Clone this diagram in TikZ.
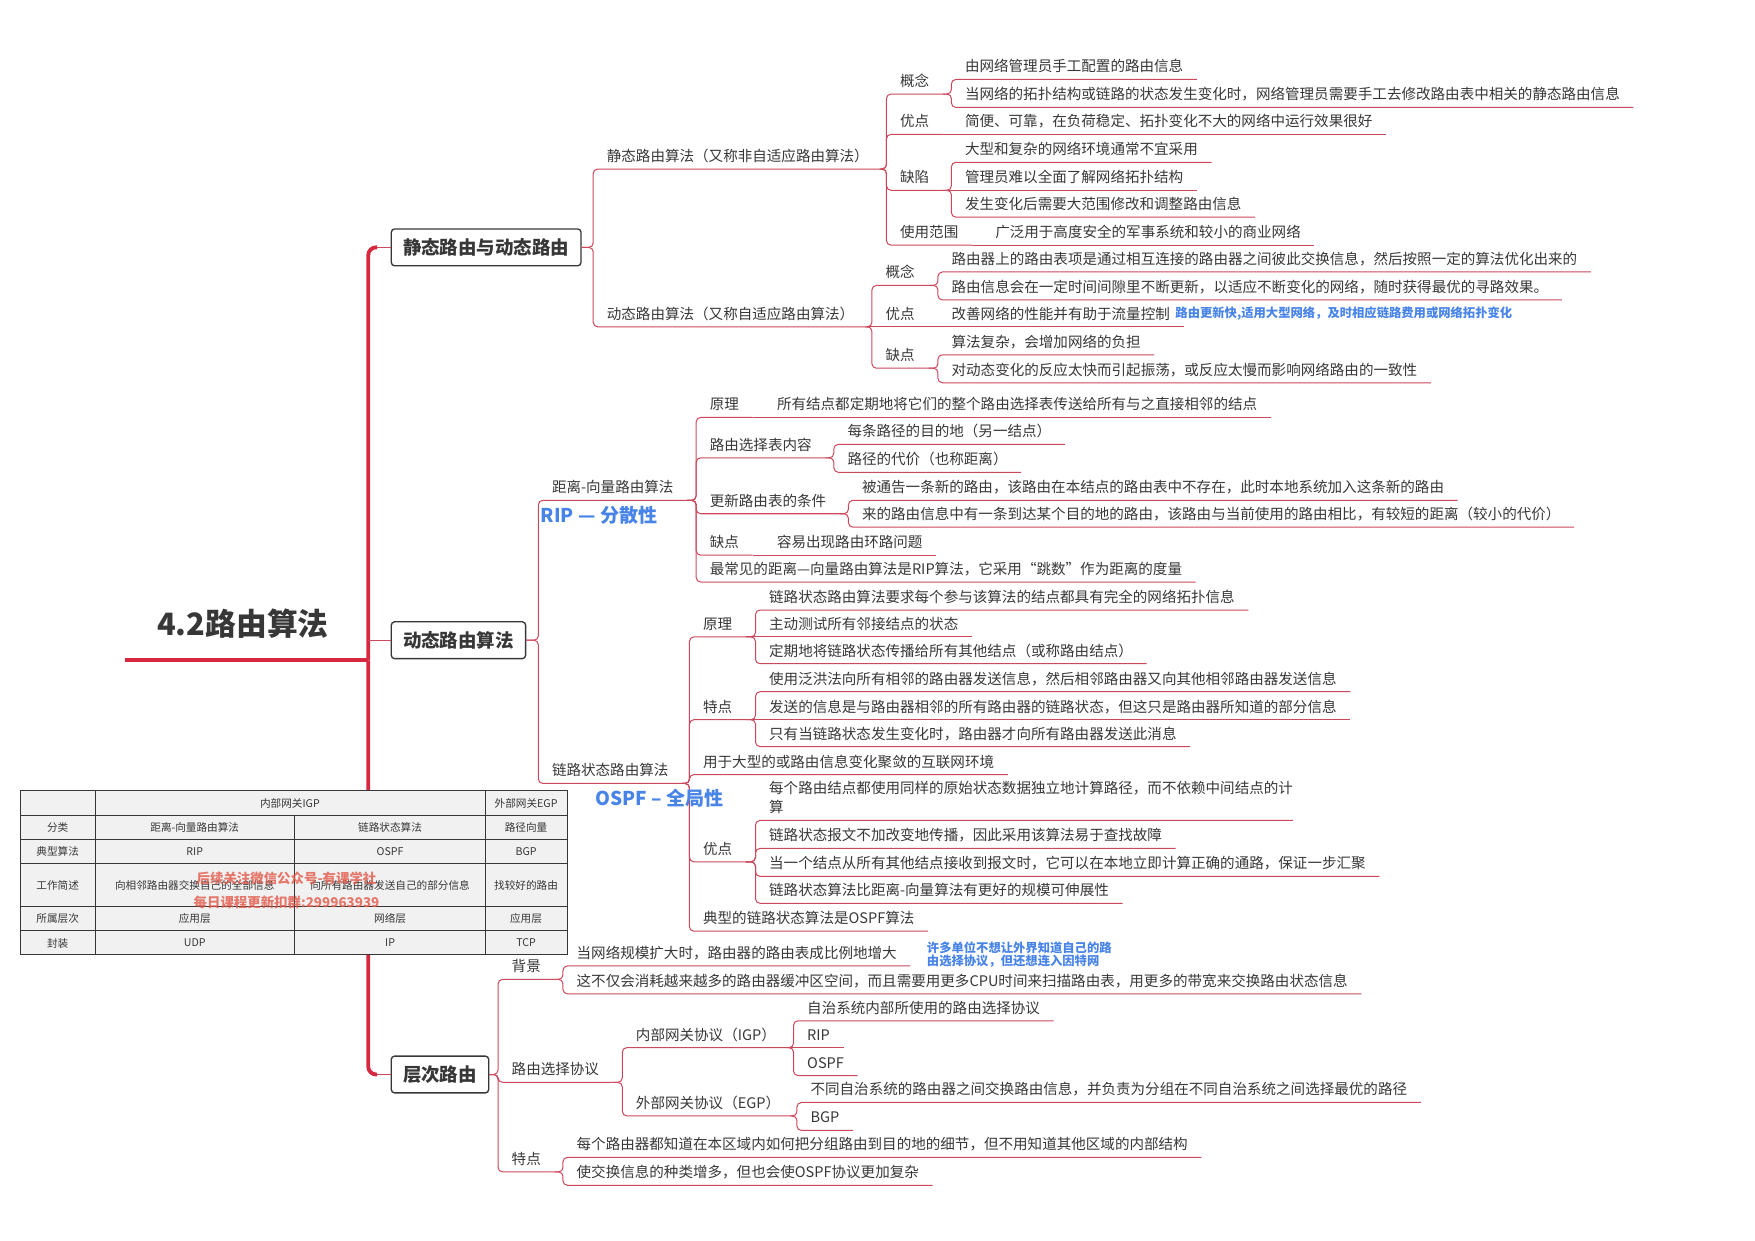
\documentclass[tikz,border=0pt]{standalone}
\usepackage{fontspec}
\setmainfont{Noto Sans CJK SC}
\usepackage{tikz}
\usetikzlibrary{positioning}

\definecolor{ink}{RGB}{55,55,55}
\definecolor{trunkred}{RGB}{214,40,64}
\definecolor{branchred}{RGB}{204,72,92}
\definecolor{noteblue}{RGB}{72,132,232}
\definecolor{tablegray}{RGB}{241,241,241}
\definecolor{markred}{RGB}{226,88,72}

\begin{document}
\begin{tikzpicture}[x=1pt, y=-1pt,
    every node/.append style={text=ink},
    trunk/.style={draw=trunkred, line width=3.4pt, rounded corners=7pt},
    branch/.style={draw=branchred, line width=0.9pt, rounded corners=4pt}]
  \tikzstyle{topic} = [anchor=south west, inner xsep=12pt, inner ysep=3.5pt, text depth=3pt, font=\fontsize{13}{17}\selectfont]
  \tikzstyle{mainbox} = [draw=ink, anchor=west, line width=1.2pt, rounded corners=3pt, inner xsep=10.5pt, inner ysep=8.5pt, font=\fontsize{16.5}{18}\selectfont\bfseries]
  \tikzstyle{note} = [anchor=west, inner sep=0pt, align=left, text=noteblue, font=\fontsize{11}{12}\selectfont\bfseries]
  \tikzstyle{bignote} = [note, font=\fontsize{17}{19}\selectfont\bfseries]
  \tikzstyle{cell} = [inner sep=0pt, font=\fontsize{9.5}{11}\selectfont]
  \tikzstyle{watermark} = [inner sep=0pt, text=markred, opacity=0.8, font=\fontsize{12}{13}\selectfont\bfseries]
  \useasboundingbox (0,0) rectangle (1568,1108);

  \node (root) [anchor=south, minimum width=210pt, inner xsep=0pt, inner ysep=19pt, text depth=3pt, font=\fontsize{27.5}{30}\selectfont\bfseries] at (217,590) {4.2路由算法};
  \coordinate (hub) at (329,590);

  \node (rs) [mainbox] at (349,221) {静态路由与动态路由};
  \node (dr) [mainbox] at (349,572) {动态路由算法};
  \node (hr) [mainbox] at (349,960) {层次路由};

  \node (sra) [topic] at (530,151) {静态路由算法（又称非自适应路由算法）};
  \node (dra) [topic] at (530,292) {动态路由算法（又称自适应路由算法）};

  \node (sgn) [topic] at (792,84) {概念};
  \node (sgn1) [topic] at (850,71) {由网络管理员手工配置的路由信息};
  \node (sgn2) [topic] at (850,96) {当网络的拓扑结构或链路的状态发生变化时，网络管理员需要手工去修改路由表中相关的静态路由信息};
  \node (syd) [topic] at (792,120) {优点};
  \node (syd1) [topic] at (850,120) {简便、可靠，在负荷稳定、拓扑变化不大的网络中运行效果很好};
  \node (sqx) [topic] at (792,170) {缺陷};
  \node (sqx1) [topic] at (850,145) {大型和复杂的网络环境通常不宜采用};
  \node (sqx2) [topic] at (850,170) {管理员难以全面了解网络拓扑结构};
  \node (sqx3) [topic] at (850,194) {发生变化后需要大范围修改和调整路由信息};
  \node (sfw) [topic] at (792,219) {使用范围};
  \node (sfw1) [topic] at (877,219) {广泛用于高度安全的军事系统和较小的商业网络};

  \node (dgn) [topic] at (779,255) {概念};
  \node (dgn1) [topic] at (838,243) {路由器上的路由表项是通过相互连接的路由器之间彼此交换信息，然后按照一定的算法优化出来的};
  \node (dgn2) [topic] at (838,268) {路由信息会在一定时间间隙里不断更新，以适应不断变化的网络，随时获得最优的寻路效果。};
  \node (dyd) [topic] at (779,292) {优点};
  \node (dyd1) [topic] at (838,292) {改善网络的性能并有助于流量控制};
  \node (dqd) [topic] at (779,329) {缺点};
  \node (dqd1) [topic] at (838,317) {算法复杂，会增加网络的负担};
  \node (dqd2) [topic] at (838,342) {对动态变化的反应太快而引起振荡，或反应太慢而影响网络路由的一致性};

  \node (dv) [topic] at (481,447) {距离-向量路由算法};
  \node (ls) [topic] at (481,700) {链路状态路由算法};

  \node (dvyl) [topic] at (622,373) {原理};
  \node (dvyl1) [topic] at (682,373) {所有结点都定期地将它们的整个路由选择表传送给所有与之直接相邻的结点};
  \node (dvbx) [topic] at (622,409) {路由选择表内容};
  \node (dvbx1) [topic] at (745,397) {每条路径的目的地（另一结点）};
  \node (dvbx2) [topic] at (745,422) {路径的代价（也称距离）};
  \node (dvgx) [topic] at (622,459) {更新路由表的条件};
  \node (dvgx1) [topic] at (758,447) {被通告一条新的路由，该路由在本结点的路由表中不存在，此时本地系统加入这条新的路由};
  \node (dvgx2) [topic] at (758,471) {来的路由信息中有一条到达某个目的地的路由，该路由与当前使用的路由相比，有较短的距离（较小的代价）};
  \node (dvqd) [topic] at (622,496) {缺点};
  \node (dvqd1) [topic] at (682,496) {容易出现路由环路问题};
  \node (dvrip) [topic] at (622,520) {最常见的距离—向量路由算法是RIP算法，它采用“跳数”作为距离的度量};

  \node (lsyl) [topic] at (616,569) {原理};
  \node (lsyl1) [topic] at (675,545) {链路状态路由算法要求每个参与该算法的结点都具有完全的网络拓扑信息};
  \node (lsyl2) [topic] at (675,569) {主动测试所有邻接结点的状态};
  \node (lsyl3) [topic] at (675,593) {定期地将链路状态传播给所有其他结点（或称路由结点）};
  \node (lstd) [topic] at (616,643) {特点};
  \node (lstd1) [topic] at (675,618) {使用泛洪法向所有相邻的路由器发送信息，然后相邻路由器又向其他相邻路由器发送信息};
  \node (lstd2) [topic] at (675,643) {发送的信息是与路由器相邻的所有路由器的链路状态，但这只是路由器所知道的部分信息};
  \node (lstd3) [topic] at (675,667) {只有当链路状态发生变化时，路由器才向所有路由器发送此消息};
  \node (lsyy) [topic] at (616,692) {用于大型的或路由信息变化聚敛的互联网环境};
  \node (lsyd) [topic] at (616,770) {优点};
  \node (lsyd1) [topic, text width=456pt, align=left, text depth=20pt] at (675,733) {每个路由结点都使用同样的原始状态数据独立地计算路径，而不依赖中间结点的计\\算};
  \node (lsyd2) [topic] at (675,758) {链路状态报文不加改变地传播，因此采用该算法易于查找故障};
  \node (lsyd3) [topic] at (675,783) {当一个结点从所有其他结点接收到报文时，它可以在本地立即计算正确的通路，保证一步汇聚};
  \node (lsyd4) [topic] at (675,807) {链路状态算法比距离-向量算法有更好的规模可伸展性};
  \node (lsos) [topic] at (616,832) {典型的链路状态算法是OSPF算法};

  \node (hbj) [topic] at (445,875) {背景};
  \node (hbj1) [topic] at (503,863) {当网络规模扩大时，路由器的路由表成比例地增大};
  \node (hbj2) [topic] at (503,888) {这不仅会消耗越来越多的路由器缓冲区空间，而且需要用更多CPU时间来扫描路由表，用更多的带宽来交换路由状态信息};
  \node (hxy) [topic] at (445,967) {路由选择协议};
  \node (higp) [topic] at (556,936) {内部网关协议（IGP）};
  \node (higp1) [topic] at (709,912) {自治系统内部所使用的路由选择协议};
  \node (higp2) [topic] at (709,936) {RIP};
  \node (higp3) [topic] at (709,961) {OSPF};
  \node (hegp) [topic] at (556,997) {外部网关协议（EGP）};
  \node (hegp1) [topic] at (712,985) {不同自治系统的路由器之间交换路由信息，并负责为分组在不同自治系统之间选择最优的路径};
  \node (hegp2) [topic] at (712,1010) {BGP};
  \node (htd) [topic] at (445,1047) {特点};
  \node (htd1) [topic] at (503,1034) {每个路由器都知道在本区域内如何把分组路由到目的地的细节，但不用知道其他区域的内部结构};
  \node (htd2) [topic] at (503,1059) {使交换信息的种类增多，但也会使OSPF协议更加复杂};

  \draw[trunk, sharp corners] (root.south west) -- (hub);
  \draw[trunk] (hub) |- ([xshift=-12pt]rs.west);
  \draw[trunk] (hub) |- ([xshift=-12pt]hr.west);
  \draw[branch] ([xshift=-12pt]rs.west) -- (rs.west);
  \draw[branch] ([xshift=-12pt]hr.west) -- (hr.west);
  \draw[branch] (hub |- dr.west) -- (dr.west);

  \foreach \p/\c in {rs/sra, rs/dra, dr/dv, dr/ls, hr/hbj, hr/hxy, hr/htd}
    \draw[branch] (\p.east) -| (\c.south west) -- (\c.south east);
  \foreach \p/\c in {sra/sgn, sra/syd, sra/sqx, sra/sfw, sgn/sgn1, sgn/sgn2, sqx/sqx1, sqx/sqx3,
      dra/dgn, dra/dqd, dgn/dgn1, dgn/dgn2, dqd/dqd1, dqd/dqd2,
      dv/dvyl, dv/dvbx, dv/dvgx, dv/dvqd, dv/dvrip, dvbx/dvbx1, dvbx/dvbx2, dvgx/dvgx1, dvgx/dvgx2,
      ls/lsyl, ls/lstd, ls/lsyy, ls/lsyd, ls/lsos, lsyl/lsyl1, lsyl/lsyl3, lstd/lstd1, lstd/lstd3,
      lsyd/lsyd1, lsyd/lsyd2, lsyd/lsyd3, lsyd/lsyd4,
      hbj/hbj1, hbj/hbj2, hxy/higp, hxy/hegp, higp/higp1, higp/higp3, hegp/hegp1, hegp/hegp2, htd/htd1, htd/htd2}
    \draw[branch] (\p.south east) -| (\c.south west) -- (\c.south east);
  \foreach \p/\c in {syd/syd1, sqx/sqx2, sfw/sfw1, dra/dyd, dyd/dyd1, dvyl/dvyl1, dvqd/dvqd1, lsyl/lsyl2, lstd/lstd2, higp/higp2}
    \draw[branch] (\p.south east) -- (\c.south west) -- (\c.south east);

  \node (nyd) [note] at (1050,280) {路由更新快,适用大型网络，及时相应链路费用或网络拓扑变化};
  \node (nrip) [bignote] at (483,460) {RIP — 分散性};
  \node (nospf) [bignote] at (532,713) {OSPF – 全局性};
  \node (nbj) [note] at (828,853) {许多单位不想让外界知道自己的路\\由选择协议，但还想连入因特网};

  \fill[tablegray] (18,706.5) rectangle (507,853);
  \foreach \y in {728.3,750,771.5,810,831.6}
    \draw[ink, line width=0.8pt] (18,\y) -- (507,\y);
  \foreach \x in {85,433.7}
    \draw[ink, line width=0.8pt] (\x,706.5) -- (\x,853);
  \draw[ink, line width=0.8pt] (263.5,728.3) -- (263.5,853);
  \draw[ink, line width=0.8pt] (18,706.5) rectangle (507,853);
  \node (th1) [cell] at (259,717.4) {内部网关IGP};
  \node (th2) [cell] at (470,717.4) {外部网关EGP};
  \foreach \y/\a/\b/\c/\d [count=\i] in {739/分类/距离-向量路由算法/链路状态算法/路径向量,
      760.7/典型算法/RIP/OSPF/BGP,
      790.7/工作简述/向相邻路由器交换自己的全部信息/向所有路由器发送自己的部分信息/找较好的路由,
      820.8/所属层次/应用层/网络层/应用层,
      842.5/封装/UDP/IP/TCP} {
    \node (ta\i) [cell] at (51.5,\y) {\a};
    \node (tb\i) [cell] at (174,\y) {\b};
    \node (tc\i) [cell] at (348.5,\y) {\c};
    \node (td\i) [cell] at (470,\y) {\d};
  }
  \node (wm1) [watermark] at (256,785) {后续关注微信公众号-有课学社};
  \node (wm2) [watermark] at (256,806) {每日课程更新扣群:299963939};
\end{tikzpicture}
\end{document}
